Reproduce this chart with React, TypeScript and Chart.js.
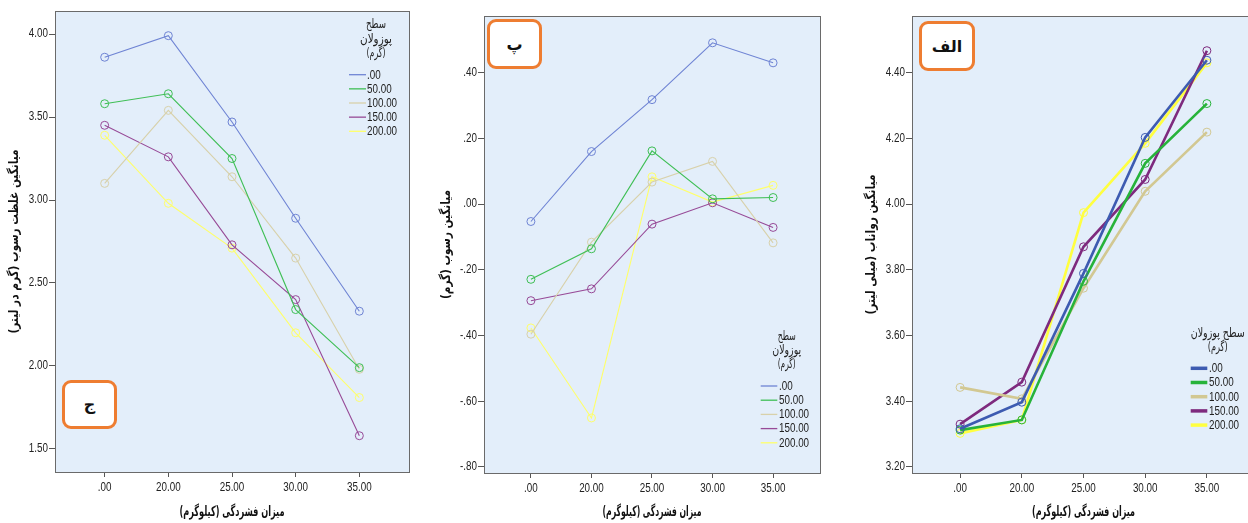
import React, { useEffect, useRef } from "react";
import { Chart, registerables } from "chart.js";
Chart.register(...registerables);

const NUM_FONT = "'Liberation Sans', Arial, sans-serif";
const FA_FONT = "'DejaVu Sans', 'Noto Sans', sans-serif";
const NARROW = 0.82;

// ---- shared categories ----
const xLabels = [".00", "20.00", "25.00", "30.00", "35.00"];
const seriesNames = [".00", "50.00", "100.00", "150.00", "200.00"];

// ---- panel ج : sediment concentration (g/L) ----
const concS0 = [3.86, 3.99, 3.47, 2.89, 2.33];
const concS50 = [3.58, 3.64, 3.25, 2.34, 1.99];
const concS100 = [3.1, 3.54, 3.14, 2.65, 1.98];
const concS150 = [3.45, 3.26, 2.73, 2.4, 1.58];
const concS200 = [3.39, 2.98, 2.71, 2.2, 1.81];
const concTicks = [1.5, 2.0, 2.5, 3.0, 3.5, 4.0];

// ---- panel پ : sediment (g) ----
const sedS0 = [-0.053, 0.16, 0.318, 0.491, 0.43];
const sedS50 = [-0.229, -0.136, 0.162, 0.016, 0.02];
const sedS100 = [-0.396, -0.116, 0.067, 0.13, -0.118];
const sedS150 = [-0.294, -0.258, -0.061, 0.004, -0.071];
const sedS200 = [-0.377, -0.651, 0.083, 0.006, 0.057];
const sedTicks = [-0.8, -0.6, -0.4, -0.2, 0, 0.2, 0.4];

// ---- panel الف : runoff (mL) ----
const runS0 = [3.316, 3.397, 3.789, 4.203, 4.438];
const runS50 = [3.312, 3.343, 3.765, 4.124, 4.306];
const runS100 = [3.442, 3.407, 3.744, 4.039, 4.219];
const runS150 = [3.33, 3.458, 3.87, 4.075, 4.467];
const runS200 = [3.302, 3.343, 3.974, 4.185, 4.43];
const runTicks = [3.2, 3.4, 3.6, 3.8, 4.0, 4.2, 4.4];

const lightColors = ["#6f84d4", "#3fbf55", "#d8d1aa", "#974a97", "#ffff6a"];
const boldColors = ["#3d5bb1", "#27b33a", "#d2c892", "#7e2a7e", "#ffff40"];

const fmt = (v: number) => {
  const s = (Math.abs(v) < 1e-9 ? 0 : v).toFixed(2);
  return s.replace(/^(-?)0\./, "$1.");
};

function fitText(
  ctx: CanvasRenderingContext2D,
  text: string,
  x: number,
  y: number,
  width: number,
  font: string,
  rotate = false,
  color = "#111"
) {
  ctx.save();
  ctx.font = font;
  ctx.fillStyle = color;
  (ctx as any).direction = "rtl";
  ctx.textAlign = "center";
  ctx.textBaseline = "middle";
  const w = ctx.measureText(text).width || 1;
  ctx.translate(x, y);
  if (rotate) ctx.rotate(-Math.PI / 2);
  ctx.scale(width / w, 1);
  ctx.fillText(text, 0, 0);
  ctx.restore();
}

function numText(ctx: CanvasRenderingContext2D, text: string, x: number, y: number, align: CanvasTextAlign) {
  ctx.save();
  ctx.font = "12px " + NUM_FONT;
  ctx.fillStyle = "#222";
  ctx.textAlign = align;
  ctx.textBaseline = "middle";
  ctx.translate(x, y);
  ctx.scale(NARROW, 1);
  ctx.fillText(text, 0, 0);
  ctx.restore();
}

type PanelCfg = {
  left: number;
  width: number;
  series: number[][];
  colors: string[];
  lineWidth: number;
  yTicks: number[];
  yMin: number;
  yMax: number;
  xMin: number;
  xMax: number;
  pad: { top: number; right: number };
  yWidth: number;
  xHeight: number;
  yTitle: string;
  yTitleX: number;
  yTitleW: number;
  xTitleW: number;
  legendTitle: { text: string; x: number; y: number; w: number }[];
  legend: { x1: number; x2: number; tx: number; y0: number; step: number; lw: number };
  box: { left: number; top: number; w: number; h: number; text: string };
};

const panels: PanelCfg[] = [
  {
    left: 0,
    width: 420,
    series: [concS0, concS50, concS100, concS150, concS200],
    colors: lightColors,
    lineWidth: 1.1,
    yTicks: concTicks,
    yMin: 1.3614,
    yMax: 4.1386,
    xMin: -0.78,
    xMax: 4.78,
    pad: { top: 11, right: 11 },
    yWidth: 55,
    xHeight: 51,
    yTitle: "میانگین غلظت رسوب (گرم در لیتر)",
    yTitleX: 15,
    yTitleW: 184,
    xTitleW: 105,
    legendTitle: [
      { text: "سطح", x: 376, y: 25, w: 20 },
      { text: "پوزولان", x: 376, y: 40, w: 32 },
      { text: "(گرم)", x: 376, y: 54, w: 19 },
    ],
    legend: { x1: 349, x2: 366, tx: 367, y0: 74.7, step: 14.15, lw: 1.3 },
    box: { left: 62, top: 380, w: 55, h: 49, text: "ج" },
  },
  {
    left: 420,
    width: 420,
    series: [sedS0, sedS50, sedS100, sedS150, sedS200],
    colors: lightColors,
    lineWidth: 1.1,
    yTicks: sedTicks,
    yMin: -0.8186,
    yMax: 0.5726,
    xMin: -0.775,
    xMax: 4.775,
    pad: { top: 16, right: 20 },
    yWidth: 64,
    xHeight: 50,
    yTitle: "میانگین رسوب (گرم)",
    yTitleX: 27,
    yTitleW: 109,
    xTitleW: 99,
    legendTitle: [
      { text: "سطح", x: 366.7, y: 336.7, w: 18 },
      { text: "پوزولان", x: 366.7, y: 350.7, w: 29 },
      { text: "(گرم)", x: 366.7, y: 365, w: 18 },
    ],
    legend: { x1: 340.7, x2: 357.3, tx: 359, y0: 386, step: 14.2, lw: 1.3 },
    box: { left: 67, top: 19, w: 55, h: 50, text: "پ" },
  },
  {
    left: 840,
    width: 420,
    series: [runS0, runS50, runS100, runS150, runS200],
    colors: boldColors,
    lineWidth: 2.6,
    yTicks: runTicks,
    yMin: 3.1814,
    yMax: 4.5726,
    xMin: -0.78,
    xMax: 4.78,
    pad: { top: 16, right: 0 },
    yWidth: 72,
    xHeight: 50,
    yTitle: "میانگین رواناب (میلی لیتر)",
    yTitleX: 32,
    yTitleW: 140,
    xTitleW: 103,
    legendTitle: [
      { text: "سطح پوزولان", x: 377.7, y: 333.3, w: 54 },
      { text: "(گرم)", x: 377.7, y: 347.7, w: 20 },
    ],
    legend: { x1: 350.7, x2: 367.3, tx: 369, y0: 368.3, step: 14.2, lw: 3.5 },
    box: { left: 79, top: 21, w: 56, h: 50, text: "الف" },
  },
];

function Panel({ cfg }: { cfg: PanelCfg }) {
  const ref = useRef<HTMLCanvasElement>(null);
  useEffect(() => {
    if (!ref.current) return;
    const deco = {
      id: "deco",
      beforeDraw(chart: any) {
        const { ctx, chartArea: a } = chart;
        ctx.save();
        ctx.fillStyle = "#e3eefa";
        ctx.fillRect(a.left, a.top, a.right - a.left, a.bottom - a.top);
        ctx.restore();
      },
      afterDraw(chart: any) {
        const { ctx, chartArea: a } = chart;
        ctx.save();
        ctx.strokeStyle = "#6a6a6a";
        ctx.lineWidth = 1;
        ctx.strokeRect(Math.round(a.left) + 0.5, Math.round(a.top) + 0.5, Math.round(a.right - a.left), Math.round(a.bottom - a.top));
        ctx.restore();
        // tick labels (narrow numerals) placed via the chart's scales
        const xs = chart.scales.x;
        const ys = chart.scales.y;
        xs.ticks.forEach((t: any) => {
          numText(ctx, xLabels[Math.round(t.value)] ?? "", xs.getPixelForValue(t.value), a.bottom + 16, "center");
        });
        ys.ticks.forEach((t: any) => {
          numText(ctx, fmt(t.value), a.left - 7, ys.getPixelForValue(t.value), "right");
        });
        // axis titles
        fitText(ctx, cfg.yTitle, cfg.yTitleX, (a.top + a.bottom) / 2, cfg.yTitleW, "bold 13px " + FA_FONT, true);
        fitText(ctx, "میزان فشردگی (کیلوگرم)", (a.left + a.right) / 2, 512, cfg.xTitleW, "bold 14px " + FA_FONT);
        // legend
        cfg.legendTitle.forEach((t) => fitText(ctx, t.text, t.x, t.y, t.w, "13px " + FA_FONT, false, "#222"));
        const L = cfg.legend;
        seriesNames.forEach((name, i) => {
          const y = L.y0 + i * L.step;
          ctx.save();
          ctx.strokeStyle = cfg.colors[i];
          ctx.lineWidth = L.lw;
          ctx.beginPath();
          ctx.moveTo(L.x1, y);
          ctx.lineTo(L.x2, y);
          ctx.stroke();
          ctx.restore();
          numText(ctx, name, L.tx, y + 0.5, "left");
        });
      },
    };
    const chart = new Chart(ref.current, {
      type: "line",
      data: {
        datasets: cfg.series.map((vals, i) => ({
          label: seriesNames[i],
          data: vals.map((v, j) => ({ x: j, y: v })),
          borderColor: cfg.colors[i],
          borderWidth: cfg.lineWidth,
          pointRadius: 4,
          pointHoverRadius: 4,
          pointBorderWidth: 1,
          pointBorderColor: cfg.colors[i],
          pointBackgroundColor: "rgba(0,0,0,0)",
          fill: false,
          tension: 0,
        })),
      },
      options: {
        animation: false,
        responsive: false,
        events: [],
        layout: { padding: { top: cfg.pad.top, right: cfg.pad.right, left: 0, bottom: 0 } },
        plugins: { legend: { display: false }, tooltip: { enabled: false } },
        scales: {
          x: {
            type: "linear",
            min: cfg.xMin,
            max: cfg.xMax,
            afterBuildTicks: (axis: any) => {
              axis.ticks = xLabels.map((_, i) => ({ value: i }));
            },
            afterFit: (axis: any) => {
              axis.height = cfg.xHeight;
            },
            ticks: {
              autoSkip: false,
              maxRotation: 0,
              padding: 3,
              color: "rgba(0,0,0,0)",
              font: { family: NUM_FONT, size: 12 },
              callback: (v: any) => xLabels[Math.round(Number(v))] ?? "",
            },
            grid: { drawOnChartArea: false, drawTicks: true, tickLength: 5, color: "#555" },
            border: { display: false },
          },
          y: {
            type: "linear",
            min: cfg.yMin,
            max: cfg.yMax,
            afterBuildTicks: (axis: any) => {
              axis.ticks = cfg.yTicks.map((v) => ({ value: v }));
            },
            afterFit: (axis: any) => {
              axis.width = cfg.yWidth;
            },
            ticks: {
              autoSkip: false,
              padding: 1,
              color: "rgba(0,0,0,0)",
              font: { family: NUM_FONT, size: 12 },
              callback: (v: any) => fmt(Number(v)),
            },
            grid: { drawOnChartArea: false, drawTicks: true, tickLength: 6, color: "#555" },
            border: { display: false },
          },
        },
      } as any,
      plugins: [deco],
    });
    return () => chart.destroy();
  }, []);
  const b = cfg.box;
  return (
    <div style={{ position: "absolute", left: cfg.left, top: 0, width: cfg.width, height: 523 }}>
      <canvas ref={ref} width={cfg.width} height={523} style={{ display: "block" }} />
      <div
        style={{
          position: "absolute",
          left: b.left,
          top: b.top,
          width: b.w,
          height: b.h,
          boxSizing: "border-box",
          border: "3px solid #ee7d31",
          borderRadius: 9,
          background: "#fff",
          display: "flex",
          alignItems: "center",
          justifyContent: "center",
          fontFamily: FA_FONT,
          fontWeight: "bold",
          fontSize: 16,
          color: "#111",
          direction: "rtl",
        }}
      >
        {b.text}
      </div>
    </div>
  );
}

export default function App() {
  return (
    <div
      style={{
        position: "absolute",
        left: 0,
        top: 0,
        width: 1248,
        height: 523,
        overflow: "hidden",
        background: "#fff",
      }}
    >
      {panels.map((p, i) => (
        <Panel key={i} cfg={p} />
      ))}
    </div>
  );
}
